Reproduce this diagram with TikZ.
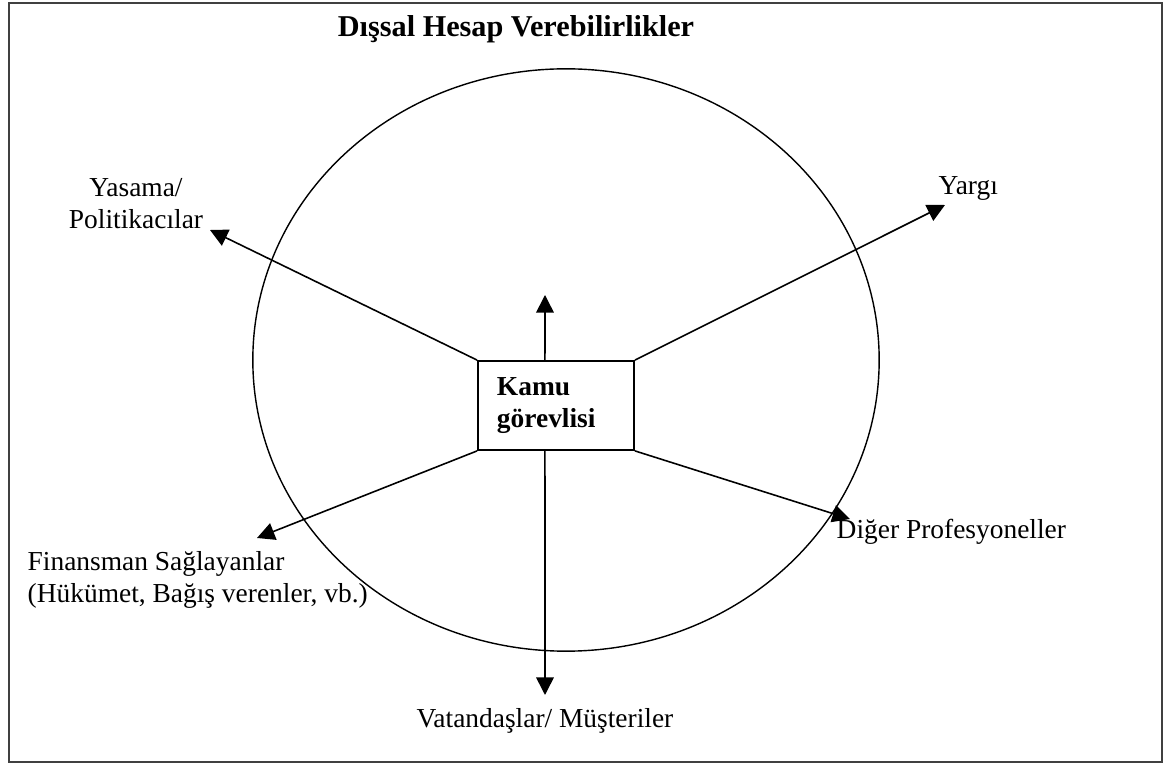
\documentclass[tikz,border=0pt]{standalone}
\usepackage{fontspec}
\setmainfont{Liberation Serif}
\usetikzlibrary{positioning, arrows.meta, calc}

\begin{document}
\begin{tikzpicture}[
  x=0.01cm, y=-0.01cm,
  font=\fontsize{7.8}{9.1}\selectfont,
  box/.style={draw, rectangle, line width=0.5pt, minimum width=1.56cm,
              minimum height=0.89cm, text width=1.18cm, inner xsep=0.19cm,
              inner ysep=0pt, align=left, font=\fontsize{7.8}{9.1}\selectfont\bfseries},
  lbl/.style={inner sep=0pt},
  ring/.style={draw, line width=0.4pt},
  arr/.style={-{Triangle[length=5pt, width=5pt]}, line width=0.45pt},
]
\useasboundingbox (0,0) rectangle (1166,764);
\draw[line width=0.8pt, black!75] (9,3) rectangle (1162,762);
%% Title and ring
\node[lbl, font=\fontsize{8.6}{10}\selectfont\bfseries] (title) at (516,29)
  {Dışsal Hesap Verebilirlikler};
\draw[ring] (566,360) ellipse [x radius=3.13cm, y radius=2.91cm];
%% Centre
\node[box] (kamu) at (556,405.5) {Kamu\\görevlisi};
%% Outer labels
\node[lbl, align=center] (yasama) at (136,204) {Yasama/\\Politikacılar};
\node[lbl, anchor=west] (yargi) at (938,188) {Yargı};
\node[lbl, anchor=west, align=left] (finans) at (27,580)
  {Finansman Sağlayanlar\\(Hükümet, Bağış verenler, vb.)};
\node[lbl, anchor=west] (diger) at (836,532) {Diğer Profesyoneller};
\node[lbl] (vatandas) at (545,721) {Vatandaşlar/ Müşteriler};
%% Arrow ends
\coordinate (tyasama) at (210,230);
\coordinate (tyargi) at (945,205);
\coordinate (tup) at (545,295);
\coordinate (tfinans) at (257,538);
\coordinate (tdiger) at (850,519);
\coordinate (tdown) at (545,695);
\coordinate (ktop) at ($(kamu.north west)!0.43!(kamu.north east)$);
\coordinate (kbot) at ($(kamu.south west)!0.43!(kamu.south east)$);
\draw[arr] (kamu.north west) -- (tyasama);
\draw[arr] (kamu.north east) -- (tyargi);
\draw[arr] (ktop) -- (tup);
\draw[arr] (kamu.south west) -- (tfinans);
\draw[arr] (kamu.south east) -- (tdiger);
\draw[arr] (kbot) -- (tdown);
\end{tikzpicture}
\end{document}
